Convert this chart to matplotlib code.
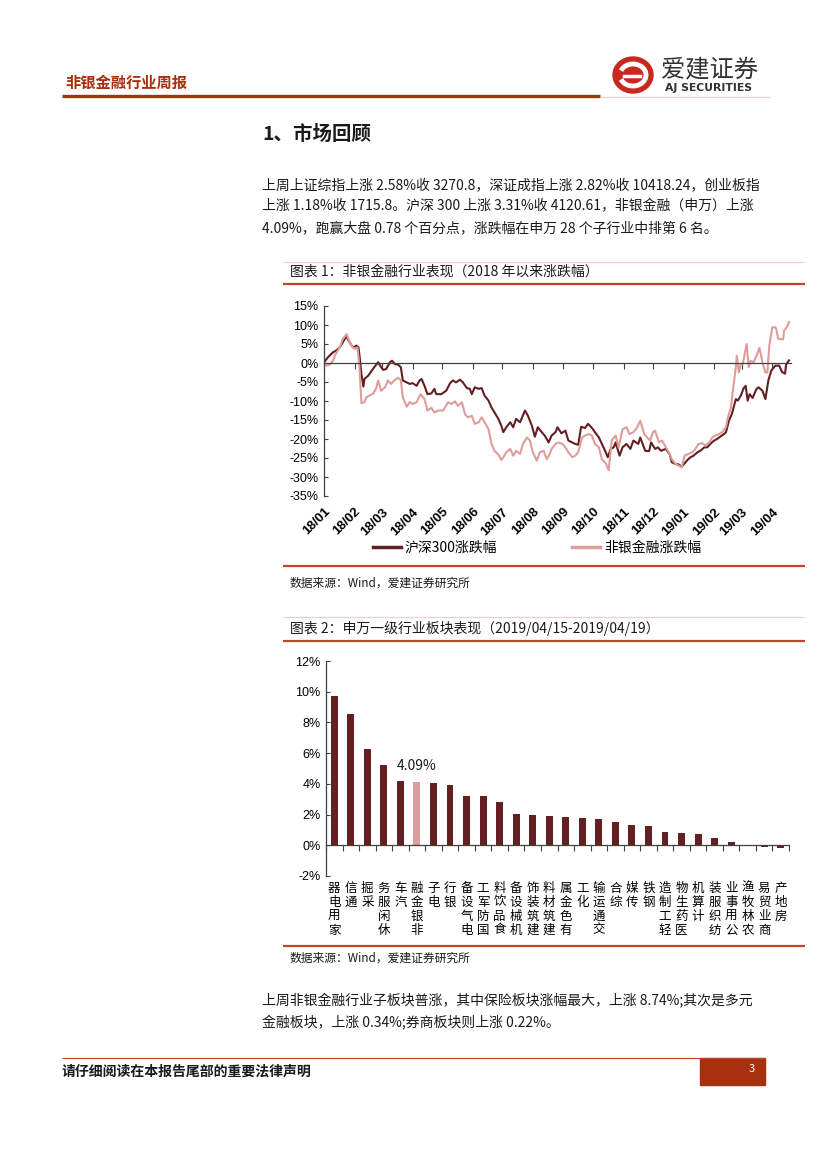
import numpy as np
import pandas as pd
import matplotlib
matplotlib.use("Agg")
import matplotlib.pyplot as plt
import matplotlib.dates as mdates
from matplotlib.lines import Line2D
from matplotlib.patches import Ellipse, Rectangle, Arc

plt.rcParams['font.family'] = ['Noto Sans CJK SC', 'DejaVu Sans']

W, H = 827, 1169

# ── data: chart 1, cumulative change since 2018-01-01 (day offset, %) ─────────
hs300_day = [0, 4, 9, 12, 16, 19, 23, 24, 28, 30,
             33, 35, 36, 38, 40, 41, 45, 48, 51, 55,
             57, 60, 63, 67, 69, 72, 75, 78, 80, 84,
             87, 90, 94, 97, 99, 102, 105, 109, 112, 114,
             119, 124, 128, 131, 134, 138, 141, 145, 148, 150,
             153, 157, 160, 163, 167, 170, 173, 177, 180, 182,
             185, 189, 192, 195, 199, 204, 207, 211, 214, 217,
             221, 224, 228, 231, 235, 237, 241, 245, 248, 252,
             255, 258, 261, 265, 268, 272, 275, 279, 282, 286,
             288, 291, 294, 296, 300, 303, 307, 311, 314, 319,
             321, 326, 330, 332, 336, 339, 342, 347, 351, 353,
             357, 360, 363, 366, 369, 372, 375, 379, 382, 386,
             389, 392, 396, 399, 402, 406, 408, 411, 414, 418,
             420, 423, 426, 428, 430, 432, 435, 439, 441, 445,
             448, 451, 454, 458, 462, 465, 468, 469, 472]
hs300_pct = [0.2, 1.5, 2.8, 3.2, 4.1, 5.4, 7.2, 6.3, 4.6, 4.1,
             4.6, 4.1, 2.0, -3.0, -6.2, -4.2, -3.3, -2.2, -1.1, 0.2,
             -0.7, -1.8, -1.6, 0.2, 0.6, -0.3, -0.4, -1.1, -4.6, -5.1,
             -5.5, -5.3, -6.0, -4.6, -4.2, -6.0, -8.2, -8.0, -6.8, -8.2,
             -8.2, -7.3, -5.3, -4.6, -5.1, -4.4, -5.1, -6.6, -6.8, -8.2,
             -6.4, -6.8, -6.6, -8.6, -9.9, -11.7, -13.0, -14.7, -16.5, -18.2,
             -16.9, -15.6, -16.9, -14.7, -15.6, -12.5, -13.9, -16.5, -19.4, -16.9,
             -18.2, -19.1, -20.9, -19.1, -18.2, -16.9, -18.5, -17.8, -20.4, -20.9,
             -21.3, -21.5, -16.8, -17.1, -16.0, -17.1, -18.2, -19.6, -21.3, -23.5,
             -24.8, -22.6, -22.2, -20.9, -24.4, -22.2, -21.3, -22.6, -20.4, -21.3,
             -19.6, -23.1, -23.2, -20.9, -22.6, -22.2, -23.1, -22.6, -24.1, -26.1,
             -26.6, -26.7, -27.3, -26.4, -25.5, -24.8, -24.4, -23.5, -23.1, -22.2,
             -22.2, -21.3, -20.4, -20.0, -19.4, -18.7, -18.2, -15.2, -13.4, -9.5,
             -9.9, -8.6, -6.6, -6.0, -9.9, -8.2, -9.2, -6.8, -6.4, -7.3,
             -9.5, -4.6, -2.0, -0.7, -0.7, -2.4, -2.8, -0.4, 0.7]

nonbank_day = [0, 2, 6, 9, 12, 16, 19, 23, 26, 29,
               32, 34, 36, 38, 41, 43, 46, 50, 53, 55,
               58, 62, 65, 68, 71, 75, 78, 80, 84, 87,
               90, 94, 98, 102, 105, 109, 112, 116, 121, 126,
               129, 133, 136, 140, 143, 146, 150, 153, 157, 160,
               163, 167, 170, 173, 177, 180, 182, 185, 189, 192,
               195, 199, 202, 206, 209, 212, 216, 219, 223, 226,
               229, 231, 235, 238, 242, 245, 248, 252, 255, 258,
               262, 265, 269, 272, 275, 279, 282, 286, 289, 292,
               296, 299, 303, 307, 310, 314, 318, 321, 325, 328,
               331, 334, 336, 340, 343, 347, 350, 353, 357, 360,
               363, 366, 370, 374, 377, 380, 384, 387, 391, 394,
               397, 401, 404, 408, 410, 413, 415, 418, 419, 421,
               423, 425, 427, 429, 431, 433, 436, 439, 442, 445,
               448, 450, 452, 455, 458, 459, 461, 466, 467, 469,
               471, 472]
nonbank_pct = [0.0, -0.7, -0.4, 0.6, 2.4, 4.1, 6.3, 7.6, 5.4, 4.1,
               3.7, 4.1, -1.1, -10.6, -10.3, -9.0, -8.6, -8.0, -6.6, -4.6,
               -7.3, -6.4, -4.6, -5.5, -4.6, -3.9, -4.5, -9.0, -11.5, -10.3,
               -10.8, -10.3, -8.2, -9.5, -12.5, -11.8, -13.0, -12.5, -12.5, -10.3,
               -10.8, -10.1, -11.3, -10.3, -13.4, -14.3, -13.9, -16.0, -15.6, -14.3,
               -15.6, -17.4, -21.3, -23.1, -24.1, -25.5, -24.8, -23.5, -22.6, -24.4,
               -23.1, -23.9, -21.3, -19.6, -20.4, -23.5, -25.7, -23.5, -23.1, -25.3,
               -24.0, -22.6, -21.3, -20.9, -21.3, -22.2, -23.5, -24.8, -24.4, -23.5,
               -19.6, -19.1, -18.7, -19.1, -21.3, -22.2, -25.3, -26.4, -28.2, -20.4,
               -19.1, -22.2, -17.4, -16.9, -18.7, -18.2, -16.9, -15.2, -18.7, -19.6,
               -20.4, -18.2, -17.8, -20.9, -20.4, -22.2, -23.5, -25.3, -26.6, -27.0,
               -27.5, -24.4, -23.9, -23.5, -22.6, -21.3, -21.1, -21.7, -20.9, -19.6,
               -19.1, -18.7, -18.2, -16.9, -14.3, -11.7, -7.3, -1.1, 1.9, -2.5,
               -0.4, -0.4, 2.4, 5.0, -1.1, 0.6, 0.2, 1.9, 4.0, 0.2,
               -2.5, -2.5, 4.6, 9.4, 9.4, 9.0, 6.4, 6.2, 8.6, 9.1,
               10.1, 10.8]

series_names = ["沪深300涨跌幅", "非银金融涨跌幅"]
month_ticks = pd.date_range("2018-01-01", "2019-04-01", freq="MS")
month_labels = [d.strftime("%y/%m") for d in month_ticks]

# ── data: chart 2, SW level-1 industries, week 2019/04/15-04/19 (%) ───────────
industries = ["家用电器", "通信", "采掘", "休闲服务", "汽车", "非银金融", "电子",
              "银行", "电气设备", "国防军工", "食品饮料", "机械设备", "建筑装饰",
              "建筑材料", "有色金属", "化工", "交通运输", "综合", "传媒", "钢铁",
              "轻工制造", "医药生物", "计算机", "纺织服装", "公用事业", "农林牧渔",
              "商业贸易", "房地产"]
industry_pct = [9.75, 8.55, 6.25, 5.20, 4.17, 4.09, 4.07, 3.95, 3.21, 3.19,
                2.80, 2.05, 1.99, 1.88, 1.84, 1.79, 1.73, 1.51, 1.29, 1.25,
                0.87, 0.83, 0.72, 0.50, 0.24, -0.04, -0.09, -0.17]
highlight = "非银金融"

# ── text ──────────────────────────────────────────────────────────────────────
para1 = ["上周上证综指上涨 2.58%收 3270.8，深证成指上涨 2.82%收 10418.24，创业板指",
         "上涨 1.18%收 1715.8。沪深 300 上涨 3.31%收 4120.61，非银金融（申万）上涨",
         "4.09%，跑赢大盘 0.78 个百分点，涨跌幅在申万 28 个子行业中排第 6 名。"]
para2 = ["上周非银金融行业子板块普涨，其中保险板块涨幅最大，上涨 8.74%;其次是多元",
         "金融板块，上涨 0.34%;券商板块则上涨 0.22%。"]

# ── colours ───────────────────────────────────────────────────────────────────
C_BRAND = "#A8300F"
C_RULE = "#C0452A"
C_PALE = "#F2CDC4"
C_DARK = "#641F22"
C_PINK = "#DE9C9A"
C_TEXT = "#1A1A1A"
TICK_FONT = ['Liberation Sans', 'Noto Sans CJK SC']

BASE = pd.Timestamp("2018-01-01")


def to_num(days):
    return mdates.date2num(BASE + pd.to_timedelta(days, unit="D"))


fig = plt.figure(figsize=(W / 100, H / 100), dpi=100)

# page layer in pixel coordinates (origin top-left)
page = fig.add_axes([0, 0, 1, 1])
page.set_xlim(0, W)
page.set_ylim(H, 0)
page.axis("off")


def px_axes(left, top, right, bottom):
    return fig.add_axes([left / W, 1 - bottom / H, (right - left) / W, (bottom - top) / H])


def hline(x0, x1, y, color, lw):
    page.plot([x0, x1], [y, y], color=color, lw=lw, solid_capstyle="butt")


# ── header ────────────────────────────────────────────────────────────────────
page.text(65, 83, "非银金融行业周报", fontsize=11, fontweight="bold", color=C_BRAND, va="center")
hline(62, 600, 96, C_BRAND, 2.4)
hline(600, 770, 97, C_PALE, 0.8)

# logo
page.add_patch(Ellipse((633, 75), 40, 36, color="#C8281E"))
page.add_patch(Arc((633, 75), 26, 22, theta1=200, theta2=520, color="white", lw=3.5))
page.add_patch(Ellipse((636, 76), 12, 10, color="#C8281E"))
page.plot([624, 640], [76, 76], color="white", lw=2.5)
page.text(661, 69, "爱建证券", fontsize=17.5, color="#333333", va="center")
page.text(665, 88, "AJ SECURITIES", fontsize=7.8, fontweight="bold", color="#333333",
          va="center", family="DejaVu Sans")

# ── section text ──────────────────────────────────────────────────────────────
page.text(262, 135, "1、市场回顾", fontsize=14, fontweight="bold", color=C_TEXT, va="center")
for i, line in enumerate(para1):
    page.text(262, 185 + i * 21.5, line, fontsize=10, color=C_TEXT, va="center")

# ── chart 1 frame ─────────────────────────────────────────────────────────────
hline(283, 805, 262, C_PALE, 0.8)
page.text(290, 272, "图表 1：非银金融行业表现（2018 年以来涨跌幅）", fontsize=10,
          color=C_TEXT, va="center")
hline(283, 805, 284, C_RULE, 1.6)
hline(283, 805, 566, C_RULE, 1.6)
page.text(290, 583, "数据来源：Wind，爱建证券研究所", fontsize=8.5, color=C_TEXT, va="center")

ax1 = px_axes(324, 306, 791, 496)
ax1.set_facecolor("none")
ax1.plot(to_num(hs300_day), hs300_pct, color=C_DARK, lw=1.5)
ax1.plot(to_num(nonbank_day), nonbank_pct, color=C_PINK, lw=1.5)
ax1.set_xlim(to_num([0])[0], to_num([474])[0])
ax1.set_ylim(-35, 15)
yt = np.arange(-35, 16, 5)
ax1.set_yticks(yt, labels=[f"{v}%" for v in yt])
ax1.set_xticks(mdates.date2num(month_ticks), labels=[])
for s in ("top", "right"):
    ax1.spines[s].set_visible(False)
ax1.spines["bottom"].set_position(("data", 0))
for s in ("bottom", "left"):
    ax1.spines[s].set_color("#404040")
    ax1.spines[s].set_linewidth(0.9)
ax1.tick_params(axis="x", direction="out", length=4, color="#404040")
ax1.tick_params(axis="y", direction="in", length=3, color="#404040", labelsize=9, pad=4)
for lbl in ax1.get_yticklabels():
    lbl.set_family(TICK_FONT)

sec1 = ax1.secondary_xaxis(0.0)
sec1.set_xticks(mdates.date2num(month_ticks), labels=month_labels)
sec1.spines["bottom"].set_visible(False)
sec1.tick_params(length=0, pad=7)
for lbl in sec1.get_xticklabels():
    lbl.set_rotation(45)
    lbl.set_ha("right")
    lbl.set_rotation_mode("anchor")
    lbl.set_fontsize(9.5)
    lbl.set_fontweight("bold")
    lbl.set_family(TICK_FONT)

handles = [Line2D([], [], color=C_DARK, lw=2.5), Line2D([], [], color=C_PINK, lw=2.5)]
fig.legend(handles, series_names, loc="center", bbox_to_anchor=(537 / W, 1 - 548 / H),
           ncol=2, frameon=False, fontsize=10, handlelength=2.0, handletextpad=0.3,
           columnspacing=5.4)

# ── chart 2 frame ─────────────────────────────────────────────────────────────
hline(283, 805, 617, C_PALE, 0.8)
page.text(290, 629, "图表 2：申万一级行业板块表现（2019/04/15-2019/04/19）", fontsize=10,
          color=C_TEXT, va="center")
hline(283, 805, 641, C_RULE, 1.6)
hline(283, 805, 946, C_RULE, 1.6)
page.text(290, 958, "数据来源：Wind，爱建证券研究所", fontsize=8.5, color=C_TEXT, va="center")

ax2 = px_axes(326, 661, 789, 876)
ax2.set_facecolor("none")
xpos = np.arange(len(industries))
colors = [C_PINK if n == highlight else C_DARK for n in industries]
bars = ax2.bar(xpos, industry_pct, width=0.42, color=colors)
ax2.bar_label(bars, labels=[f"{v:.2f}%" if n == highlight else ""
                            for n, v in zip(industries, industry_pct)],
              padding=7, fontsize=10, color=C_TEXT)
ax2.set_xlim(-0.5, len(industries) - 0.5)
ax2.set_ylim(-2, 12)
yt2 = np.arange(-2, 13, 2)
ax2.set_yticks(yt2, labels=[f"{v}%" for v in yt2])
ax2.set_xticks(np.arange(-0.5, len(industries), 1), labels=[])
for s in ("top", "right"):
    ax2.spines[s].set_visible(False)
ax2.spines["bottom"].set_position(("data", 0))
for s in ("bottom", "left"):
    ax2.spines[s].set_color("#404040")
    ax2.spines[s].set_linewidth(0.9)
ax2.tick_params(axis="x", direction="out", length=4, color="#404040")
ax2.tick_params(axis="y", direction="in", length=3, color="#404040", labelsize=9, pad=4)
for lbl in ax2.get_yticklabels():
    lbl.set_family(TICK_FONT)

sec2 = ax2.secondary_xaxis(0.0)
sec2.set_xticks(xpos, labels=["\n".join(reversed(n)) for n in industries])
sec2.spines["bottom"].set_visible(False)
sec2.tick_params(length=0, pad=4)
for lbl in sec2.get_xticklabels():
    lbl.set_fontsize(9)
    lbl.set_va("top")
    lbl.set_linespacing(1.1)

# ── closing paragraph & footer ────────────────────────────────────────────────
for i, line in enumerate(para2):
    page.text(262, 1000 + i * 22, line, fontsize=10, color=C_TEXT, va="center")

hline(62, 765, 1058, C_RULE, 0.8)
page.add_patch(Rectangle((700, 1058), 65, 27, color=C_BRAND))
page.text(752, 1069, "3", fontsize=8, color="white", ha="center", va="center")
page.text(62, 1072, "请仔细阅读在本报告尾部的重要法律声明", fontsize=10, fontweight="bold",
          color=C_TEXT, va="center")

fig.savefig("out.png", dpi=100)
